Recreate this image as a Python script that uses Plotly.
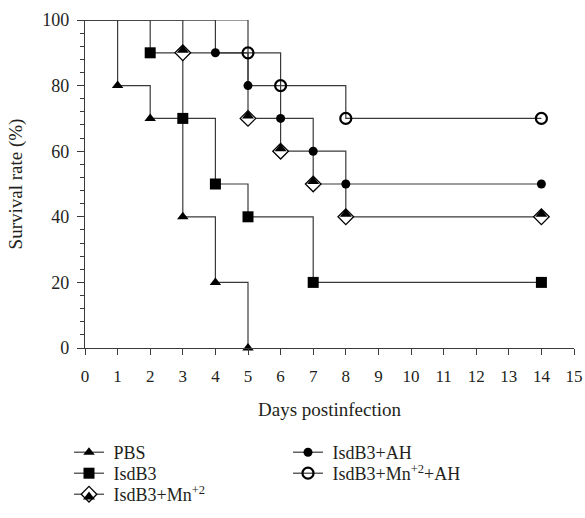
import plotly.graph_objects as go

# ---- data ----
days_max = 15
pbs_days = [1, 2, 3, 4, 5]
pbs_surv = [80, 70, 40, 20, 0]
isdb3_days = [2, 3, 4, 5, 7, 14]
isdb3_surv = [90, 70, 50, 40, 20, 20]
mn_days = [3, 5, 6, 7, 8, 14]
mn_surv = [90, 70, 60, 50, 40, 40]
ah_days = [4, 5, 6, 7, 8, 14]
ah_surv = [90, 80, 70, 60, 50, 50]
mnah_days = [5, 6, 8, 14]
mnah_surv = [90, 80, 70, 70]

names = ["PBS", "IsdB3", "IsdB3+Mn<sup>+2</sup>", "IsdB3+AH", "IsdB3+Mn<sup>+2</sup>+AH"]

LINE = "#3a3a3a"
FONT = "Liberation Serif"
TXT = "#231f20"
SP = "\u00a0"

fig = go.Figure()

series = [
    (pbs_days, pbs_surv, names[0], dict(symbol="triangle-up", size=10, color="black", line=dict(width=0)), "legend"),
    (isdb3_days, isdb3_surv, names[1], dict(symbol="square", size=11, color="black", line=dict(width=0)), "legend2"),
    (mn_days, mn_surv, names[2], dict(symbol="diamond", size=12, color="white", line=dict(width=1.3, color="black")), "legend3"),
    (ah_days, ah_surv, names[3], dict(symbol="circle", size=9, color="black", line=dict(width=0)), "legend4"),
    (mnah_days, mnah_surv, names[4], dict(symbol="circle-open", size=11, color="black", line=dict(width=2.2, color="black")), "legend5"),
]

# initial horizontal segments from 100% at day 0
for d, s, n, m, lg in series:
    fig.add_trace(go.Scatter(
        x=[0, d[0]], y=[100, s[0]], mode="lines", line_shape="hv",
        line=dict(color=LINE, width=1.2), showlegend=False, hoverinfo="skip",
        cliponaxis=False))

for d, s, n, m, lg in series:
    fig.add_trace(go.Scatter(
        x=d, y=s, mode="lines+markers", line_shape="hv", name=SP + n,
        line=dict(color=LINE, width=1.2), marker=m, legend=lg,
        cliponaxis=False))

# top half fill of the diamond markers
fig.add_trace(go.Scatter(
    x=mn_days, y=mn_surv, mode="markers", showlegend=True, name=SP,
    legend="legend6",
    marker=dict(symbol="triangle-down", size=10.4, angle=180, standoff=2.6,
                color="black", line=dict(width=0)),
    cliponaxis=False, hoverinfo="skip"))

# plot area geometry (px) used to place legend rows
L, R, T, B = 85, 11, 20, 170
W, H = 585 - L - R, 518 - T - B
col_x = [69, 288]
row_top = [434, 455, 476]


def px_x(p):
    return (p - L) / W


def px_y(p):
    return (518 - B - p) / H


leg_common = dict(xanchor="left", yanchor="top", bgcolor="rgba(0,0,0,0)",
                  font=dict(size=18, family=FONT, color=TXT), itemwidth=30,
                  borderwidth=0)

fig.update_layout(
    width=585, height=518,
    margin=dict(l=L, r=R, t=T, b=B, autoexpand=False),
    paper_bgcolor="white", plot_bgcolor="white",
    font=dict(family=FONT, size=18, color=TXT),
    xaxis=dict(
        range=[0, days_max], dtick=1, tick0=0, showgrid=False, zeroline=False,
        showline=True, linecolor=LINE, linewidth=1.2, automargin=False,
        ticks="outside", ticklen=6, tickcolor=LINE, tickwidth=1.2,
        tickfont=dict(size=17), ticklabelstandoff=6,
        title=dict(text="Days postinfection", font=dict(size=19), standoff=18),
    ),
    yaxis=dict(
        range=[0, 100], dtick=20, tick0=0, showgrid=False, zeroline=False,
        showline=True, linecolor=LINE, linewidth=1.2, automargin=False,
        ticks="outside", ticklen=7, tickcolor=LINE, tickwidth=1.2,
        tickfont=dict(size=18), ticklabelstandoff=4,
        minor=dict(dtick=4, ticks="outside", ticklen=4, tickcolor=LINE, tickwidth=1.2),
        title=dict(text="Survival rate (%)", font=dict(size=19), standoff=14),
    ),
    legend=dict(x=px_x(col_x[0]), y=px_y(row_top[0]), **leg_common),
    legend2=dict(x=px_x(col_x[0]), y=px_y(row_top[1]), **leg_common),
    legend3=dict(x=px_x(col_x[0]), y=px_y(row_top[2]), **leg_common),
    legend4=dict(x=px_x(col_x[1]), y=px_y(row_top[0]), **leg_common),
    legend5=dict(x=px_x(col_x[1]), y=px_y(row_top[1]), **leg_common),
    legend6=dict(x=px_x(col_x[0]), y=px_y(row_top[2]), **leg_common),
)

fig.write_html("out.html")
